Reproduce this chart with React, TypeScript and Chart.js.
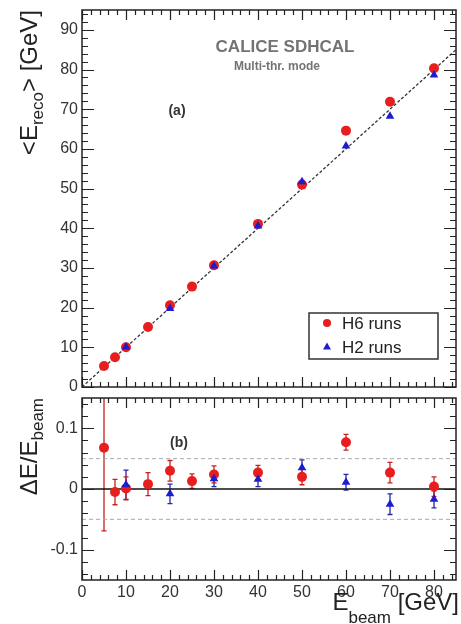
import { useEffect, useRef } from 'react';
import { Chart, registerables } from 'chart.js';

Chart.register(...registerables);

const FONT = "'Liberation Sans', Arial, Helvetica, sans-serif";
const RED = '#e81e1e';
const RED_BAR = '#c82020';
const BLUE = '#1c1cd0';
const BLUE_BAR = '#2626a8';
const INK = '#222';
const LABEL = '#333';

// H6 beam line runs
const beamH6 = [5, 7.5, 10, 15, 20, 25, 30, 40, 50, 60, 70, 80];
const recoH6 = [5.3, 7.5, 10.0, 15.1, 20.6, 25.3, 30.7, 41.1, 51.0, 64.6, 71.9, 80.3];
const devH6 = [0.068, -0.005, 0.001, 0.008, 0.03, 0.013, 0.024, 0.027, 0.02, 0.077, 0.027, 0.004];
const devErrH6 = [0.137, 0.021, 0.019, 0.019, 0.017, 0.012, 0.014, 0.012, 0.013, 0.013, 0.017, 0.016];

// H2 beam line runs
const beamH2 = [10, 20, 30, 40, 50, 60, 70, 80];
const recoH2 = [10.1, 19.8, 30.5, 40.6, 51.7, 60.7, 68.2, 78.6];
const devH2 = [0.007, -0.008, 0.017, 0.016, 0.035, 0.011, -0.025, -0.017];
const devErrH2 = [0.024, 0.016, 0.013, 0.012, 0.013, 0.013, 0.017, 0.014];

// Axis ranges and labelled ticks
const energyRange = [0, 85];
const recoRange = [0, 95];
const devRange = [-0.15, 0.15];
const energyTicks = [0, 10, 20, 30, 40, 50, 60, 70, 80];
const recoTicks = [0, 10, 20, 30, 40, 50, 60, 70, 80, 90];
const devTicks = [-0.1, 0, 0.1];
const bandLimits = [-0.05, 0.05];

type TickSpec = { major: number; minor: number; majorLen: number; minorLen: number };

const pts = (xs: number[], ys: number[]) => xs.map((x, i) => ({ x, y: ys[i] }));

function tickValues(min: number, max: number, step: number) {
  const out: number[] = [];
  const k0 = Math.ceil(min / step - 1e-6);
  const k1 = Math.floor(max / step + 1e-6);
  for (let k = k0; k <= k1; k++) out.push(k * step);
  return out;
}

// ROOT-like frame with inward ticks on all four sides
function framePlugin(xt: TickSpec, yt: TickSpec) {
  return {
    id: 'rootFrame',
    afterDatasetsDraw(chart: any) {
      const { ctx, chartArea: a, scales } = chart;
      const xs = scales.x;
      const ys = scales.y;
      ctx.save();
      ctx.strokeStyle = INK;
      ctx.lineWidth = 1.2;
      ctx.beginPath();
      for (const v of tickValues(xs.min, xs.max, xt.minor)) {
        const isMajor = Math.abs(v / xt.major - Math.round(v / xt.major)) < 1e-6;
        const len = isMajor ? xt.majorLen : xt.minorLen;
        const px = Math.round(xs.getPixelForValue(v)) + 0.5;
        ctx.moveTo(px, a.bottom);
        ctx.lineTo(px, a.bottom - len);
        ctx.moveTo(px, a.top);
        ctx.lineTo(px, a.top + len);
      }
      for (const v of tickValues(ys.min, ys.max, yt.minor)) {
        const isMajor = Math.abs(v / yt.major - Math.round(v / yt.major)) < 1e-6;
        const len = isMajor ? yt.majorLen : yt.minorLen;
        const py = Math.round(ys.getPixelForValue(v)) + 0.5;
        ctx.moveTo(a.left, py);
        ctx.lineTo(a.left + len, py);
        ctx.moveTo(a.right, py);
        ctx.lineTo(a.right - len, py);
      }
      ctx.stroke();
      ctx.lineWidth = 1.5;
      ctx.strokeRect(a.left, a.top, a.right - a.left, a.bottom - a.top);
      ctx.restore();
    },
  };
}

// Vertical error bars with small end caps, drawn under the markers
const errorBarPlugin = {
  id: 'errorBars',
  beforeDatasetsDraw(chart: any) {
    const { ctx, chartArea: a } = chart;
    const ys = chart.scales.y;
    ctx.save();
    ctx.beginPath();
    ctx.rect(a.left, a.top, a.right - a.left, a.bottom - a.top);
    ctx.clip();
    chart.data.datasets.forEach((ds: any, i: number) => {
      if (!ds.yErrors) return;
      const meta = chart.getDatasetMeta(i);
      ctx.strokeStyle = ds.errorColor;
      ctx.lineWidth = 1.3;
      meta.data.forEach((el: any, j: number) => {
        const p = ds.data[j];
        const e = ds.yErrors[j];
        const t = ys.getPixelForValue(p.y + e);
        const b = ys.getPixelForValue(p.y - e);
        ctx.beginPath();
        ctx.moveTo(el.x, t);
        ctx.lineTo(el.x, b);
        ctx.moveTo(el.x - 2.5, t);
        ctx.lineTo(el.x + 2.5, t);
        ctx.moveTo(el.x - 2.5, b);
        ctx.lineTo(el.x + 2.5, b);
        ctx.stroke();
      });
    });
    ctx.restore();
  },
};

type Part = { text: string; size: number; dy: number; bold?: boolean };

function richWidth(ctx: CanvasRenderingContext2D, parts: Part[]) {
  let w = 0;
  for (const p of parts) {
    ctx.font = `${p.bold ? 'bold ' : ''}${p.size}px ${FONT}`;
    w += ctx.measureText(p.text).width;
  }
  return w;
}

// Draws text runs ending at (x, y); rotated titles read bottom to top
function drawRich(ctx: CanvasRenderingContext2D, parts: Part[], x: number, y: number, rotated: boolean) {
  ctx.save();
  ctx.fillStyle = INK;
  ctx.textBaseline = 'alphabetic';
  ctx.textAlign = 'left';
  const w = richWidth(ctx, parts);
  ctx.translate(x, y);
  if (rotated) ctx.rotate(-Math.PI / 2);
  let cx = -w;
  for (const p of parts) {
    ctx.font = `${p.bold ? 'bold ' : ''}${p.size}px ${FONT}`;
    ctx.fillText(p.text, cx, p.dy);
    cx += ctx.measureText(p.text).width;
  }
  ctx.restore();
}

function centerText(ctx: CanvasRenderingContext2D, text: string, x: number, y: number, font: string, color: string) {
  ctx.save();
  ctx.font = font;
  ctx.fillStyle = color;
  ctx.textAlign = 'center';
  ctx.textBaseline = 'alphabetic';
  ctx.fillText(text, x, y);
  ctx.restore();
}

const topDecor = {
  id: 'topDecor',
  afterDraw(chart: any) {
    const ctx: CanvasRenderingContext2D = chart.ctx;
    drawRich(
      ctx,
      [
        { text: '<E', size: 24, dy: 0 },
        { text: 'reco', size: 17, dy: 6 },
        { text: '> [GeV]', size: 24, dy: 0 },
      ],
      37,
      10,
      true
    );
    centerText(ctx, 'CALICE SDHCAL', 285, 52, `bold 17px ${FONT}`, '#737373');
    centerText(ctx, 'Multi-thr. mode', 277, 70, `bold 12px ${FONT}`, '#737373');
    centerText(ctx, '(a)', 177, 115, `bold 14px ${FONT}`, LABEL);

    // legend box
    ctx.save();
    ctx.strokeStyle = '#333';
    ctx.lineWidth = 1.5;
    ctx.fillStyle = '#fff';
    ctx.fillRect(309, 313, 129, 46);
    ctx.strokeRect(309, 313, 129, 46);
    ctx.fillStyle = RED;
    ctx.beginPath();
    ctx.arc(327, 323, 4, 0, Math.PI * 2);
    ctx.fill();
    ctx.fillStyle = BLUE;
    ctx.beginPath();
    ctx.moveTo(327, 342.5);
    ctx.lineTo(331, 349.5);
    ctx.lineTo(323, 349.5);
    ctx.closePath();
    ctx.fill();
    ctx.fillStyle = INK;
    ctx.font = `17px ${FONT}`;
    ctx.textAlign = 'left';
    ctx.fillText('H6 runs', 342, 329);
    ctx.fillText('H2 runs', 342, 353);
    ctx.restore();
  },
};

const bottomDecor = {
  id: 'bottomDecor',
  afterDraw(chart: any) {
    const ctx: CanvasRenderingContext2D = chart.ctx;
    drawRich(
      ctx,
      [
        { text: '\u0394E/E', size: 24, dy: 0 },
        { text: 'beam', size: 17, dy: 6 },
      ],
      37,
      6,
      true
    );
    drawRich(
      ctx,
      [
        { text: 'E', size: 24, dy: 0 },
        { text: 'beam', size: 17, dy: 13 },
        { text: ' [GeV]', size: 24, dy: 0 },
      ],
      459,
      218,
      false
    );
    centerText(ctx, '(b)', 179, 55, `bold 14px ${FONT}`, LABEL);
  },
};

const tickFont = { family: FONT, size: 16 };
const noGrid = { display: false, drawTicks: false, tickLength: 0 };

function fixedAxis(size: number, horizontal: boolean) {
  return (s: any) => {
    if (horizontal) s.height = size;
    else s.width = size;
    s.paddingTop = 0;
    s.paddingBottom = 0;
    s.paddingLeft = 0;
    s.paddingRight = 0;
  };
}

function setTicks(values: number[]) {
  return (s: any) => {
    s.ticks = values.map((value) => ({ value }));
  };
}

function topConfig(): any {
  return {
    type: 'scatter',
    data: {
      datasets: [
        {
          label: 'H2 runs',
          data: pts(beamH2, recoH2),
          pointStyle: 'triangle',
          pointRadius: 5,
          backgroundColor: BLUE,
          borderColor: BLUE,
          borderWidth: 0,
          order: 0,
        },
        {
          label: 'H6 runs',
          data: pts(beamH6, recoH6),
          pointStyle: 'circle',
          pointRadius: 5,
          backgroundColor: RED,
          borderColor: RED,
          borderWidth: 0,
          order: 1,
        },
        {
          type: 'line',
          data: pts(energyRange, energyRange),
          showLine: true,
          borderColor: '#333',
          borderWidth: 1.3,
          borderDash: [3, 2],
          pointRadius: 0,
          fill: false,
          order: 2,
        },
      ],
    },
    options: {
      animation: false,
      responsive: false,
      maintainAspectRatio: false,
      events: [],
      layout: { padding: { top: 10, right: 2, left: 0, bottom: 0 } },
      plugins: { legend: { display: false }, tooltip: { enabled: false } },
      scales: {
        x: {
          type: 'linear',
          min: energyRange[0],
          max: energyRange[1],
          ticks: { display: false },
          grid: noGrid,
          border: { display: false },
          afterBuildTicks: setTicks(energyTicks),
          afterFit: fixedAxis(5, true),
        },
        y: {
          type: 'linear',
          min: recoRange[0],
          max: recoRange[1],
          ticks: { font: tickFont, color: LABEL, padding: 4, callback: (v: number) => String(v) },
          grid: noGrid,
          border: { display: false },
          afterBuildTicks: setTicks(recoTicks),
          afterFit: fixedAxis(82, false),
        },
      },
    },
    plugins: [
      framePlugin({ major: 10, minor: 2, majorLen: 10, minorLen: 5 }, { major: 10, minor: 2, majorLen: 12, minorLen: 6 }),
      topDecor,
    ],
  };
}

function bottomConfig(): any {
  return {
    type: 'scatter',
    data: {
      datasets: [
        {
          label: 'H2 runs',
          data: pts(beamH2, devH2),
          yErrors: devErrH2,
          errorColor: BLUE_BAR,
          pointStyle: 'triangle',
          pointRadius: 5,
          backgroundColor: BLUE,
          borderColor: BLUE,
          borderWidth: 0,
          order: 0,
        },
        {
          label: 'H6 runs',
          data: pts(beamH6, devH6),
          yErrors: devErrH6,
          errorColor: RED_BAR,
          pointStyle: 'circle',
          pointRadius: 5,
          backgroundColor: RED,
          borderColor: RED,
          borderWidth: 0,
          order: 1,
        },
        {
          type: 'line',
          data: pts(energyRange, [0, 0]),
          showLine: true,
          borderColor: '#111',
          borderWidth: 1.4,
          pointRadius: 0,
          fill: false,
          order: 2,
        },
        {
          type: 'line',
          data: pts(energyRange, [bandLimits[1], bandLimits[1]]),
          showLine: true,
          borderColor: '#aaa',
          borderWidth: 1,
          borderDash: [4, 3],
          pointRadius: 0,
          fill: false,
          order: 3,
        },
        {
          type: 'line',
          data: pts(energyRange, [bandLimits[0], bandLimits[0]]),
          showLine: true,
          borderColor: '#aaa',
          borderWidth: 1,
          borderDash: [4, 3],
          pointRadius: 0,
          fill: false,
          order: 3,
        },
      ],
    },
    options: {
      animation: false,
      responsive: false,
      maintainAspectRatio: false,
      events: [],
      layout: { padding: { top: 6, right: 2, left: 0, bottom: 0 } },
      plugins: { legend: { display: false }, tooltip: { enabled: false } },
      scales: {
        x: {
          type: 'linear',
          min: energyRange[0],
          max: energyRange[1],
          ticks: { font: tickFont, color: LABEL, padding: 3, autoSkip: false, maxRotation: 0, callback: (v: number) => String(v) },
          grid: noGrid,
          border: { display: false },
          afterBuildTicks: setTicks(energyTicks),
          afterFit: fixedAxis(44, true),
        },
        y: {
          type: 'linear',
          min: devRange[0],
          max: devRange[1],
          ticks: { font: tickFont, color: LABEL, padding: 4, callback: (v: number) => String(v) },
          grid: noGrid,
          border: { display: false },
          afterBuildTicks: setTicks(devTicks),
          afterFit: fixedAxis(82, false),
        },
      },
    },
    plugins: [
      errorBarPlugin,
      framePlugin({ major: 10, minor: 2, majorLen: 10, minorLen: 5 }, { major: 0.1, minor: 0.02, majorLen: 12, minorLen: 6 }),
      bottomDecor,
    ],
  };
}

export default function App() {
  const topRef = useRef<HTMLCanvasElement>(null);
  const bottomRef = useRef<HTMLCanvasElement>(null);

  useEffect(() => {
    const top = new Chart(topRef.current as HTMLCanvasElement, topConfig());
    const bottom = new Chart(bottomRef.current as HTMLCanvasElement, bottomConfig());
    return () => {
      top.destroy();
      bottom.destroy();
    };
  }, []);

  return (
    <div style={{ position: 'fixed', left: 0, top: 0, width: 461, height: 624, background: '#fff' }}>
      <canvas ref={topRef} width={461} height={392} style={{ position: 'absolute', left: 0, top: 0 }} />
      <canvas ref={bottomRef} width={461} height={232} style={{ position: 'absolute', left: 0, top: 392 }} />
    </div>
  );
}
